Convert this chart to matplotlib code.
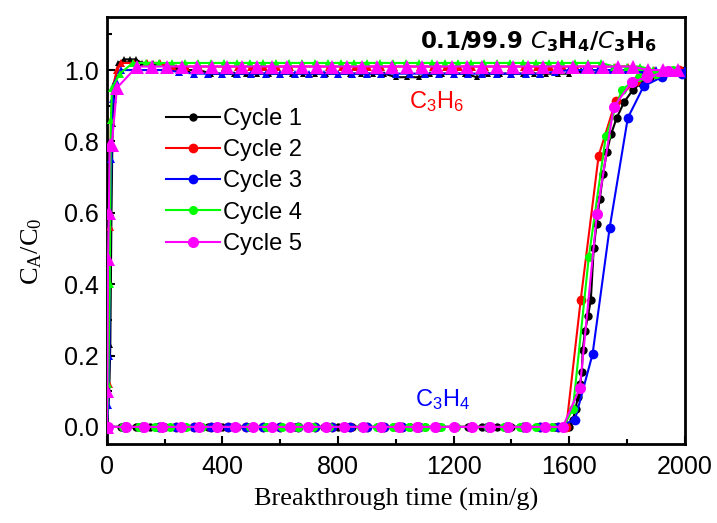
import matplotlib
matplotlib.use("Agg")
import matplotlib.pyplot as plt
from matplotlib.ticker import MultipleLocator

plt.rcParams['mathtext.default'] = 'regular'

# ---------------- data ----------------
cycles = ["Cycle 1", "Cycle 2", "Cycle 3", "Cycle 4", "Cycle 5"]
colors = ["#000000", "#ff0000", "#0000ff", "#00ff00", "#ff00ff"]

# C3H6 (triangles)
t6_c1 = [0, 8, 12, 16, 20, 28, 40, 60, 80, 100, 120, 140, 160, 200, 240, 280, 320, 360, 400, 440,
         480, 520, 560, 600, 640, 680, 720, 760, 800, 840, 880, 920, 960, 1000, 1040, 1080, 1120, 1160, 1200, 1240,
         1280, 1320, 1360, 1400, 1440, 1480, 1520, 1560, 1600, 1640, 1680, 1720, 1760, 1800, 1840, 1880, 1920, 1960, 2000]
y6_c1 = [0.00, 0.09, 0.23, 0.60, 0.85, 0.97, 1.02, 1.03, 1.03, 1.03, 1.02, 1.02, 1.02, 1.01, 1.01, 1.00, 1.00, 0.99, 0.99, 0.99,
         0.99, 0.99, 0.99, 0.99, 0.99, 0.99, 0.99, 0.99, 0.99, 0.99, 0.99, 0.99, 0.99, 0.98, 0.98, 0.98, 0.99, 0.99, 0.99, 0.99,
         0.98, 0.99, 0.99, 0.99, 0.99, 0.99, 0.99, 0.99, 0.99, 1.00, 1.00, 1.00, 1.00, 1.00, 1.00, 1.00, 1.00, 1.00, 1.00]

t6_c2 = [0, 6, 10, 14, 20, 35, 50, 95, 140, 185, 230, 275, 320, 365, 410, 455, 500, 545, 590, 635,
         680, 725, 770, 815, 860, 905, 950, 995, 1040, 1085, 1130, 1175, 1220, 1265, 1310, 1355, 1400, 1445, 1490, 1535,
         1580, 1625, 1670, 1715, 1760, 1805, 1850, 1895, 1940, 1985]
y6_c2 = [0.00, 0.12, 0.56, 0.86, 0.95, 1.00, 1.02, 1.02, 1.02, 1.02, 1.01, 1.01, 1.01, 1.01, 1.01, 1.01, 1.01, 1.01, 1.01, 1.01,
         1.01, 1.01, 1.01, 1.01, 1.01, 1.01, 1.01, 1.01, 1.01, 1.01, 1.01, 1.01, 1.01, 1.01, 1.01, 1.01, 1.01, 1.01, 1.01, 1.01,
         1.01, 1.01, 1.01, 1.01, 1.01, 1.01, 1.00, 1.00, 1.00, 1.00]

t6_c3 = [0, 5, 9, 12, 16, 20, 30, 50, 100, 150, 200, 250, 300, 350, 400, 450, 500, 550, 600, 650,
         700, 750, 800, 850, 900, 950, 1000, 1050, 1100, 1150, 1200, 1250, 1300, 1350, 1400, 1450, 1500, 1550, 1600, 1650,
         1700, 1750, 1800, 1850, 1900, 1950, 2000]
y6_c3 = [0.00, 0.06, 0.20, 0.60, 0.75, 0.92, 0.97, 1.00, 1.00, 1.00, 1.00, 0.995, 0.99, 0.99, 0.99, 0.99, 0.99, 0.99, 0.99, 0.99,
         0.99, 0.99, 0.99, 0.99, 0.99, 0.99, 0.99, 0.99, 0.99, 0.99, 0.99, 0.99, 0.99, 0.99, 0.99, 0.99, 0.99, 0.995, 1.00, 1.00,
         1.00, 1.00, 1.00, 1.00, 1.00, 1.00, 1.00]

t6_c4 = [0, 5, 10, 14, 18, 45, 90, 135, 180, 225, 270, 315, 360, 405, 450, 495, 540, 585, 630, 675,
         720, 765, 810, 855, 900, 945, 990, 1035, 1080, 1125, 1170, 1215, 1260, 1305, 1350, 1395, 1440, 1485, 1530, 1575,
         1620, 1665, 1710, 1755, 1800, 1845, 1890, 1935, 1980]
y6_c4 = [0.00, 0.12, 0.40, 0.86, 0.95, 0.99, 1.02, 1.02, 1.02, 1.02, 1.02, 1.02, 1.02, 1.02, 1.02, 1.02, 1.02, 1.02, 1.02, 1.02,
         1.02, 1.02, 1.02, 1.02, 1.02, 1.02, 1.02, 1.02, 1.02, 1.02, 1.02, 1.02, 1.02, 1.02, 1.02, 1.02, 1.02, 1.02, 1.02, 1.02,
         1.02, 1.02, 1.02, 1.01, 1.01, 1.01, 1.00, 1.00, 1.00]

t6_c5 = [0, 2, 4, 7, 10, 17, 35, 104, 156, 208, 260, 312, 364, 416, 468, 520, 572, 624, 676, 728,
         780, 832, 884, 936, 988, 1040, 1092, 1144, 1196, 1248, 1300, 1352, 1404, 1456, 1508, 1560, 1612, 1664, 1716, 1768,
         1820, 1872, 1924, 1976]
y6_c5 = [0.00, 0.10, 0.47, 0.60, 0.79, 0.79, 0.95, 1.01, 1.01, 1.01, 1.01, 1.01, 1.01, 1.01, 1.01, 1.01, 1.01, 1.01, 1.01, 1.01,
         1.01, 1.01, 1.01, 1.01, 1.01, 1.01, 1.01, 1.01, 1.01, 1.01, 1.01, 1.01, 1.01, 1.01, 1.01, 1.01, 1.01, 1.01, 1.01, 1.01,
         1.01, 1.00, 1.00, 1.00]

# C3H4 (circles)
t4_c1 = [0, 50, 100, 150, 200, 250, 300, 350, 400, 450, 500, 550, 600, 650, 700, 750, 800, 850, 900, 950,
         1000, 1050, 1100, 1150, 1200, 1250, 1300, 1350, 1400, 1450, 1500, 1550, 1600,
         1613, 1622, 1630, 1638, 1644, 1647, 1655, 1665, 1675, 1685, 1695, 1706, 1718, 1730, 1745, 1764, 1790,
         1820, 1850, 1880, 1920, 1960, 2000]
y4_c1 = [0, 0, 0, 0, 0, 0, 0, 0, 0, 0, 0, 0, 0, 0, 0, 0, 0, 0, 0, 0,
         0, 0, 0, 0, 0, 0, 0, 0, 0, 0, 0, 0, 0,
         0.02, 0.05, 0.084, 0.12, 0.154, 0.216, 0.27, 0.31, 0.356, 0.50, 0.57, 0.64, 0.71, 0.77, 0.82, 0.865, 0.91,
         0.944, 0.965, 0.98, 0.99, 0.995, 1.00]

t4_c2 = [0, 60, 120, 180, 240, 300, 360, 420, 480, 540, 600, 660, 720, 780, 840, 900, 960, 1020, 1080, 1140,
         1200, 1260, 1320, 1380, 1440, 1500, 1560, 1590, 1640, 1702, 1761, 1830, 1900, 1980]
y4_c2 = [0, 0, 0, 0, 0, 0, 0, 0, 0, 0, 0, 0, 0, 0, 0, 0, 0, 0, 0, 0,
         0, 0, 0, 0, 0, 0, 0, 0, 0.356, 0.76, 0.913, 0.97, 0.99, 1.00]

t4_c3 = [0, 60, 120, 180, 240, 300, 360, 420, 480, 540, 600, 660, 720, 780, 840, 900, 960, 1020, 1080, 1140,
         1200, 1260, 1320, 1380, 1440, 1500, 1560, 1620, 1681, 1740, 1803, 1858, 1920, 1990]
y4_c3 = [0, 0, 0, 0, 0, 0, 0, 0, 0, 0, 0, 0, 0, 0, 0, 0, 0, 0, 0, 0,
         0, 0, 0, 0, 0, 0, 0, 0.02, 0.204, 0.557, 0.866, 0.955, 0.98, 0.99]

t4_c4 = [0, 55, 110, 165, 220, 275, 330, 385, 440, 495, 550, 605, 660, 715, 770, 825, 880, 935, 990, 1045,
         1100, 1155, 1210, 1265, 1320, 1375, 1430, 1485, 1540, 1580, 1613, 1668, 1727, 1782, 1840, 1900, 1960]
y4_c4 = [0, 0, 0, 0, 0, 0, 0, 0, 0, 0, 0, 0, 0, 0, 0, 0, 0, 0, 0, 0,
         0, 0, 0, 0, 0, 0, 0, 0, 0, 0, 0.05, 0.476, 0.815, 0.944, 0.98, 0.99, 1.00]

t4_c5 = [3, 66, 129, 192, 255, 318, 381, 444, 507, 570, 633, 696, 759, 822, 885, 948, 1011, 1074, 1137, 1200,
         1263, 1326, 1389, 1452, 1515, 1578, 1637, 1696, 1754, 1816, 1868, 1941]
y4_c5 = [0, 0, 0, 0, 0, 0, 0, 0, 0, 0, 0, 0, 0, 0, 0, 0, 0, 0, 0, 0,
         0, 0, 0, 0, 0, 0, 0.109, 0.597, 0.896, 0.966, 0.98, 0.997]

x_ticks = [0, 400, 800, 1200, 1600, 2000]
y_ticks = [0.0, 0.2, 0.4, 0.6, 0.8, 1.0]

# ---------------- plot ----------------
fig = plt.figure(figsize=(7.17, 5.23), dpi=100)
ax = fig.add_axes([0.149, 0.151, 0.806, 0.816])

t6 = [t6_c1, t6_c2, t6_c3, t6_c4, t6_c5]
y6 = [y6_c1, y6_c2, y6_c3, y6_c4, y6_c5]
t4 = [t4_c1, t4_c2, t4_c3, t4_c4, t4_c5]
y4 = [y4_c1, y4_c2, y4_c3, y4_c4, y4_c5]
tri_ms = [5, 6, 6, 6, 9.5]
cir_ms = [6, 7, 7, 6.5, 8]

handles = []
for i in range(5):
    ax.plot(t6[i], y6[i], color=colors[i], marker='^', ms=tri_ms[i], lw=1.5,
            markeredgewidth=0, zorder=2 + i)
    h, = ax.plot(t4[i], y4[i], color=colors[i], marker='o', ms=cir_ms[i], lw=1.5,
                 markeredgewidth=0, zorder=2 + i, label=cycles[i])
    handles.append(h)

ax.set_xlim(0, 2000)
ax.set_ylim(-0.048, 1.148)
ax.set_xticks(x_ticks)
ax.set_yticks(y_ticks)
ax.set_yticklabels([f"{v:.1f}" for v in y_ticks])
ax.xaxis.set_minor_locator(MultipleLocator(200))
ax.yaxis.set_minor_locator(MultipleLocator(0.1))
for lab in ax.get_xticklabels() + ax.get_yticklabels():
    lab.set_fontfamily('Liberation Sans')
    lab.set_fontsize(18)
ax.tick_params(which='major', direction='in', length=6, width=1.5, top=False, right=False)
ax.tick_params(which='minor', direction='in', length=3.5, width=1.5, top=False, right=False)
ax.tick_params(axis='x', which='major', pad=8)
ax.tick_params(axis='y', which='major', pad=6)
for s in ax.spines.values():
    s.set_linewidth(2)

ax.set_xlabel('Breakthrough time (min/g)', fontfamily='Liberation Serif', fontsize=19, labelpad=6)
ax.set_ylabel('C$_A$/C$_0$', fontfamily='Liberation Serif', fontsize=19)
ax.yaxis.set_label_coords(-0.108, 0.452)

ax.text(1140, 0.912, 'C$_3$H$_6$', color='#ff0000', fontfamily='Liberation Sans', fontsize=17,
        ha='center', va='center')
ax.text(1163, 0.076, 'C$_3$H$_4$', color='#0000ff', fontfamily='Liberation Sans', fontsize=17,
        ha='center', va='center')
ax.text(0.952, 0.972, r'0.1/99.9 $\mathit{C}_3$H$_4$/$\mathit{C}_3$H$_6$', transform=ax.transAxes,
        fontfamily='DejaVu Sans', fontweight='bold', fontsize=16.5, ha='right', va='top')

ax.legend(handles=handles, loc='upper left', bbox_to_anchor=(0.073, 0.826), frameon=False,
          prop={'family': 'Liberation Sans', 'size': 17}, handlelength=2.3, handletextpad=0.15,
          labelspacing=0.39, borderpad=0.2, markerscale=1.0)

fig.savefig('out.png', dpi=100)
